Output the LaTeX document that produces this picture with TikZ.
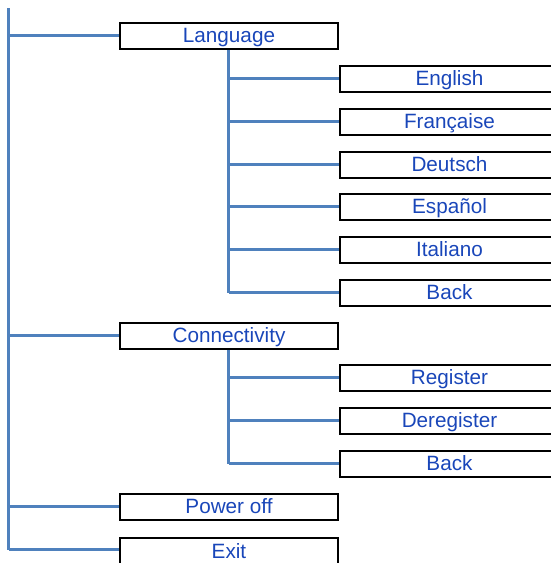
\documentclass[tikz,border=0pt]{standalone}
\usepackage{fontspec}
\setmainfont{Liberation Sans}
\definecolor{connblue}{RGB}{79,129,189}
\definecolor{txtblue}{RGB}{25,70,185}
\begin{document}
\begin{tikzpicture}[x=1pt,y=-1pt,
  menubox/.style={draw=black, line width=2pt, inner sep=0pt, minimum height=26pt,
    text height=14.8pt, text depth=0pt, text=txtblue,
    font=\fontsize{20.7}{24}\selectfont},
  mainbox/.style={menubox, minimum width=218pt},
  subbox/.style={menubox, minimum width=219pt},
  conn/.style={draw=connblue, line width=3pt}]
\useasboundingbox (0,0) rectangle (551,563);
\clip (0,0) rectangle (551,563);
% main level
\node[mainbox] (lang) at (229,35.5) {Language};
\node[mainbox] (conn) at (229,335.5) {Connectivity};
\node[mainbox] (power) at (229,506.5) {Power off};
\node[mainbox] (exit) at (229,551) {Exit};
% language submenu
\node[subbox] (en) at (449.5,78.5) {English};
\node[subbox] (fr) at (449.5,121.5) {Française};
\node[subbox] (de) at (449.5,164.5) {Deutsch};
\node[subbox] (es) at (449.5,206.5) {Español};
\node[subbox] (it) at (449.5,249.5) {Italiano};
\node[subbox] (back1) at (449.5,292.5) {Back};
% connectivity submenu
\node[subbox] (reg) at (449.5,377.5) {Register};
\node[subbox] (dereg) at (449.5,420.5) {Deregister};
\node[subbox] (back2) at (449.5,463.5) {Back};
% main trunk
\coordinate (top) at (8.5,8);
\coordinate (exitline) at (8.5,549.5);
\draw[conn] (top) -- (exitline);
\foreach \n in {lang,conn,power}
  \draw[conn] (top |- \n.west) -- (\n.west);
\draw[conn] (exitline) -- (exitline -| exit.west);
% language branch
\coordinate (lt) at (228.5,50);
\draw[conn] (lt) -- (lt |- back1.west);
\foreach \n in {en,fr,de,es,it,back1}
  \draw[conn] (lt |- \n.west) -- (\n.west);
% connectivity branch
\coordinate (ct) at (228.5,350);
\draw[conn] (ct) -- (ct |- back2.west);
\foreach \n in {reg,dereg,back2}
  \draw[conn] (ct |- \n.west) -- (\n.west);
\end{tikzpicture}
\end{document}
